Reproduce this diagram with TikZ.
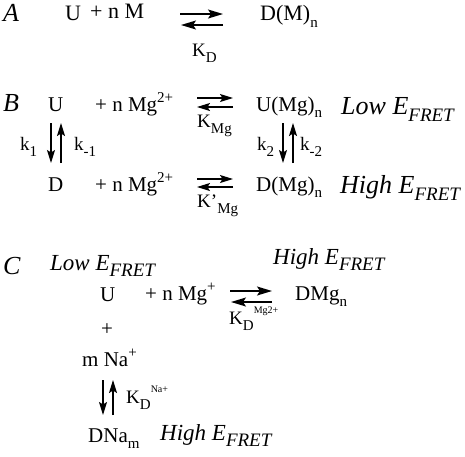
\documentclass[tikz,border=0pt]{standalone}
\usepackage{fontspec}
\setmainfont{Liberation Serif}
\usetikzlibrary{arrows.meta}
\newcommand{\lo}[1]{\raisebox{-0.32em}{\fontsize{15}{17}\selectfont #1}}
\newcommand{\hi}[1]{\raisebox{0.42em}{\fontsize{15}{17}\selectfont #1}}
\newcommand{\tsup}[1]{\raisebox{0.55em}{\fontsize{10}{12}\selectfont #1}}
\newcommand{\efret}{\textit{E}\raisebox{-0.3em}{\fontsize{19}{22}\selectfont\itshape FRET}}
\tikzset{
  txt/.style={anchor=base west, inner sep=0pt, font=\fontsize{21}{25}\selectfont},
  txta/.style={anchor=base west, inner sep=0pt, font=\fontsize{22}{26}\selectfont},
  ktxt/.style={anchor=base west, inner sep=0pt, font=\fontsize{19}{22}\selectfont},
  lbl/.style={anchor=base west, inner sep=0pt, font=\fontsize{26}{30}\selectfont\itshape},
  lblc/.style={anchor=base west, inner sep=0pt, font=\fontsize{23}{27}\selectfont\itshape},
  eqA/.style={line width=1.4pt, -{Stealth[length=15pt,width=9pt,inset=3pt]}},
  eqB/.style={line width=1.3pt, -{Stealth[length=13pt,width=8pt,inset=2.5pt]}},
}
\begin{document}
\begin{tikzpicture}[x=1pt,y=-1pt]
\useasboundingbox (0,0) rectangle (465,456);
% ---------- A ----------
\node[lbl] (lA) at (3,21) {A};
\node[txta] (uA) at (65,20) {U};
\node[txta] (mA) at (90,18) {+ n M};
\node[txta] (dA) at (260,20) {D(M)\lo{n}};
\coordinate (a1) at (180,14); \coordinate (a2) at (223,14);
\coordinate (a3) at (223,25); \coordinate (a4) at (181,25);
\draw[eqA] (a1) -- (a2);
\draw[eqA] (a3) -- (a4);
\node[ktxt] (kA) at (192,56) {K\lo{D}};
% ---------- B ----------
\node[lbl] (lB) at (3,111) {B};
\node[txt] (uB) at (48,111) {U};
\node[txt] (mB) at (95,111) {+ n Mg\hi{2+}};
\node[txt] (umB) at (256,111) {U(Mg)\lo{n}};
\node[lbl] (loB) at (341,114) {Low \efret};
\coordinate (b1) at (197,98); \coordinate (b2) at (233,98);
\coordinate (b3) at (233,107); \coordinate (b4) at (197,107);
\draw[eqB] (b1) -- (b2);
\draw[eqB] (b3) -- (b4);
\node[ktxt] (kB) at (197,127) {K\lo{Mg}};
% vertical
\coordinate (v1) at (51,123); \coordinate (v2) at (51,163);
\coordinate (v3) at (61,163); \coordinate (v4) at (61,123);
\draw[eqB] (v1) -- (v2);
\draw[eqB] (v3) -- (v4);
\node[ktxt] (k1) at (20,150) {k\lo{1}};
\node[ktxt] (km1) at (74,150) {k\lo{-1}};
\coordinate (w1) at (283,123); \coordinate (w2) at (283,163);
\coordinate (w3) at (293,163); \coordinate (w4) at (293,123);
\draw[eqB] (w1) -- (w2);
\draw[eqB] (w3) -- (w4);
\node[ktxt] (k2) at (257,150) {k\lo{2}};
\node[ktxt] (km2) at (300,150) {k\lo{-2}};
% D row
\node[txt] (dB) at (48,191) {D};
\node[txt] (mD) at (95,191) {+ n Mg\hi{2+}};
\node[txt] (dmB) at (256,191) {D(Mg)\lo{n}};
\node[lbl] (hiB) at (340,193) {High \efret};
\coordinate (c1) at (197,179); \coordinate (c2) at (233,179);
\coordinate (c3) at (233,187); \coordinate (c4) at (197,187);
\draw[eqB] (c1) -- (c2);
\draw[eqB] (c3) -- (c4);
\node[ktxt] (kpB) at (197,207) {K’\lo{Mg}};
% ---------- C ----------
\node[lbl] (lC) at (3,274) {C};
\node[lblc] (loC) at (50,270) {Low \efret};
\node[lblc] (hiC) at (273,264) {High \efret};
\node[txt] (uC) at (100,301) {U};
\node[txt] (mC) at (145,300) {+ n Mg\hi{+}};
\node[txt] (dmC) at (295,300) {DMg\lo{n}};
\coordinate (e1) at (230,291); \coordinate (e2) at (272,291);
\coordinate (e3) at (272,302); \coordinate (e4) at (231,302);
\draw[eqA] (e1) -- (e2);
\draw[eqA] (e3) -- (e4);
\node[ktxt] (kC) at (229,324) {K\lo{D}\tsup{Mg2+}};
\node[txt] (plC) at (101,335) {+};
\node[txt] (naC) at (82,366) {m Na\hi{+}};
\coordinate (f1) at (103,380); \coordinate (f2) at (103,415);
\coordinate (f3) at (113,415); \coordinate (f4) at (113,380);
\draw[eqB] (f1) -- (f2);
\draw[eqB] (f3) -- (f4);
\node[ktxt] (kNa) at (126,403) {K\lo{D}\tsup{Na+}};
\node[txt] (dnC) at (88,442) {DNa\lo{m}};
\node[lblc] (hiC2) at (160,440) {High \efret};
\end{tikzpicture}
\end{document}
